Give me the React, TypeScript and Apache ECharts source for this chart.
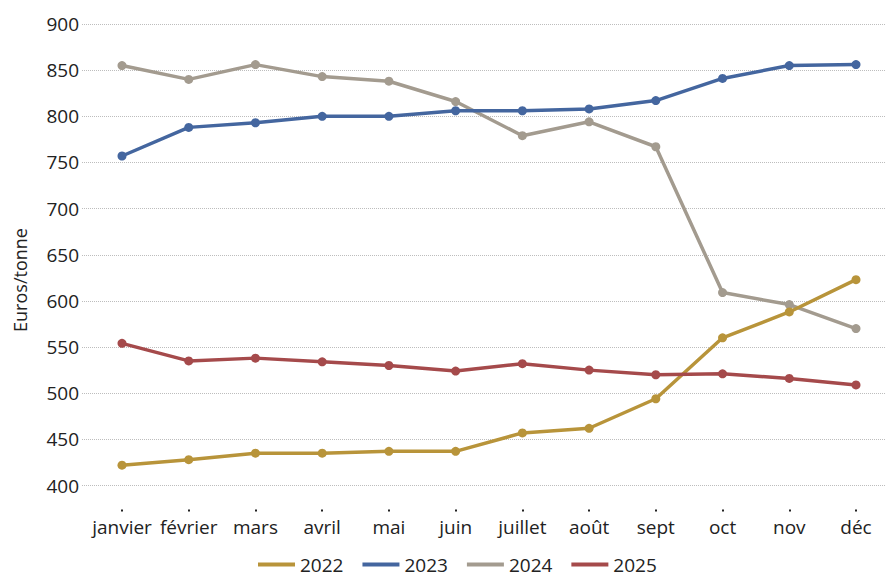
import React, { useEffect, useRef } from "react";
import * as echarts from "echarts";

const months = ["janvier", "février", "mars", "avril", "mai", "juin", "juillet", "août", "sept", "oct", "nov", "déc"];
const yTicksMin = 400;
const yTicksMax = 900;
const yTickStep = 50;

const years = ["2022", "2023", "2024", "2025"];
const s2022 = [422, 428, 435, 435, 437, 437, 457, 462, 494, 560, 588, 623];
const s2023 = [757, 788, 793, 800, 800, 806, 806, 808, 817, 841, 855, 856];
const s2024 = [855, 840, 856, 843, 838, 816, 779, 794, 767, 609, 596, 570];
const s2025 = [554, 535, 538, 534, 530, 524, 532, 525, 520, 521, 516, 509];
const colors = ["#B8943A", "#44669F", "#A39B8F", "#A54A4B"];
const yAxisTitle = "Euros/tonne";

const FONT = "'Open Sans', sans-serif";

export default function App() {
  const ref = useRef<HTMLDivElement>(null);
  useEffect(() => {
    if (!ref.current) return;
    const chart = echarts.init(ref.current, null, { renderer: "svg" });
    const seriesData = [s2022, s2023, s2024, s2025];
    const top = 24;
    const bottom = 91.5;
    chart.setOption({
      animation: false,
      textStyle: { fontFamily: FONT },
      grid: [
        { left: 82, right: 0, top, bottom },
        { left: 122, right: 30, top, bottom },
      ],
      xAxis: [
        { gridIndex: 0, type: "value", show: false, min: 0, max: 1 },
        {
          gridIndex: 1,
          type: "category",
          boundaryGap: false,
          data: months,
          offset: 24,
          axisLine: { show: false },
          axisTick: { show: true, length: 2, lineStyle: { color: "#222", width: 2 } },
          axisLabel: { color: "#222", fontSize: 19, margin: 8, fontFamily: FONT, interval: 0 },
          splitLine: { show: false },
        },
      ],
      yAxis: [
        {
          gridIndex: 0,
          type: "value",
          min: yTicksMin,
          max: yTicksMax,
          interval: yTickStep,
          axisLine: { show: false },
          axisTick: { show: false },
          axisLabel: { color: "#222", fontSize: 19, margin: 3, fontFamily: FONT },
          splitLine: { show: true, lineStyle: { color: "#bdbdbd", type: [1, 1], width: 1 } },
        },
        {
          gridIndex: 1,
          type: "value",
          min: yTicksMin,
          max: yTicksMax,
          interval: yTickStep,
          show: false,
          splitLine: { show: false },
        },
      ],
      legend: {
        data: years,
        top: 555,
        left: 258,
        padding: 0,
        icon: "rect",
        itemWidth: 37,
        itemHeight: 4,
        itemGap: 19,
        textStyle: { color: "#222", fontSize: 19, lineHeight: 16, fontFamily: FONT },
      },
      graphic: [
        {
          type: "text",
          x: 20,
          y: 280,
          rotation: Math.PI / 2,
          style: {
            text: yAxisTitle,
            fill: "#222",
            font: `18px ${FONT}`,
            textAlign: "center",
            textVerticalAlign: "middle",
          },
        },
      ],
      series: years.map((name, i) => ({
        name,
        type: "line",
        xAxisIndex: 1,
        yAxisIndex: 1,
        data: seriesData[i],
        color: colors[i],
        symbol: "circle",
        symbolSize: 9,
        lineStyle: { width: 3.5, color: colors[i] },
        itemStyle: { color: colors[i] },
        z: i === 2 ? 1 : 2,
      })),
    });
    return () => chart.dispose();
  }, []);
  return <div ref={ref} style={{ position: "fixed", left: 0, top: 0, width: 886, height: 577, background: "#fff" }} />;
}
